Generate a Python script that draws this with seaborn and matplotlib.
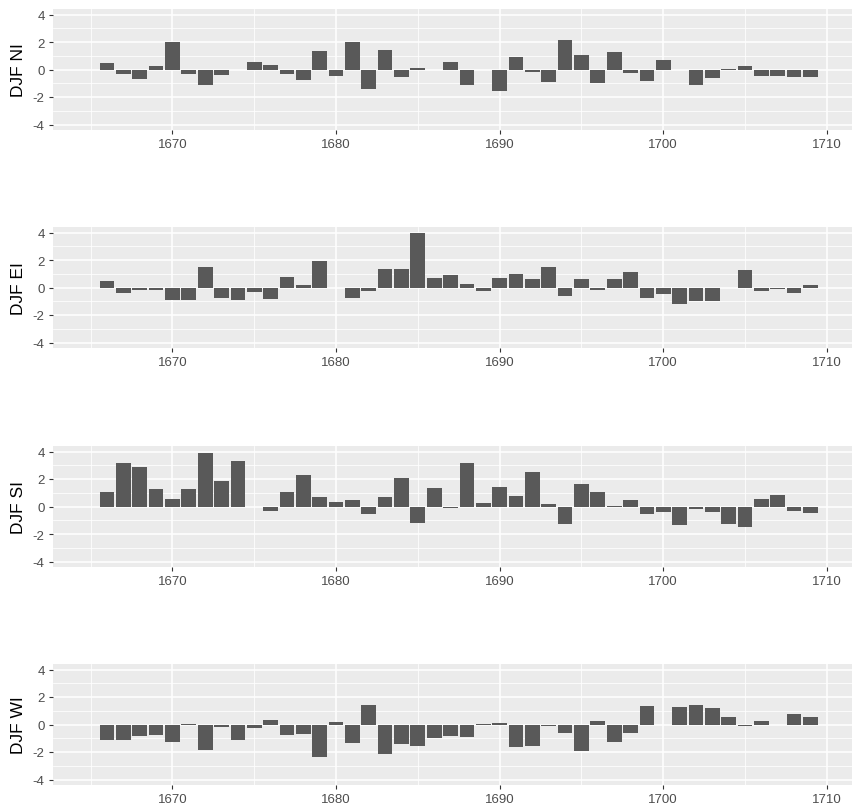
import numpy as np
import pandas as pd
import matplotlib
matplotlib.use("Agg")
import matplotlib.pyplot as plt
import seaborn as sns

years = list(range(1666, 1710))

# DJF indices (nan = no bar)
djf_ni = [0.45, -0.32, -0.7, 0.22, 2.0, -0.32, -1.12, -0.41, -0.07, 0.51,
          0.34, -0.32, -0.76, 1.32, -0.46, 1.98, -1.41, 1.44, -0.51, 0.1,
          np.nan, 0.52, -1.16, np.nan, -1.59, 0.93, -0.15, -0.9, 2.15, 1.02,
          -0.98, 1.27, -0.29, -0.85, 0.66, np.nan, -1.15, -0.61, 0.07, 0.24,
          -0.49, -0.44, -0.54, -0.54]
djf_ei = [0.49, -0.41, -0.17, -0.17, -0.9, -0.9, 1.48, -0.78, -0.9, -0.32,
          -0.85, 0.8, 0.17, 1.94, -0.07, -0.78, -0.24, 1.33, 1.33, 4.0,
          0.66, 0.9, 0.29, -0.29, 0.66, 0.95, 0.61, 1.48, -0.61, 0.61,
          -0.17, 0.61, 1.14, -0.73, -0.46, -1.21, -0.97, -0.97, np.nan, 1.26,
          -0.29, -0.1, -0.41, 0.17]
djf_si = [1.04, 3.2, 2.84, 1.26, 0.53, 1.26, 3.86, 1.82, 3.28, -0.07,
          -0.32, 1.09, 2.28, 0.68, 0.36, 0.49, -0.53, 0.68, 2.06, -1.21,
          1.33, -0.12, 3.2, 0.24, 1.41, 0.8, 2.48, 0.17, -1.26, 1.63,
          1.02, 0.07, 0.46, -0.53, -0.41, -1.33, -0.17, -0.41, -1.26, -1.46,
          0.53, 0.85, -0.34, -0.44]
djf_wi = [-1.16, -1.16, -0.85, -0.75, -1.28, 0.07, -1.89, -0.19, -1.11, -0.24,
          0.34, -0.75, -0.68, -2.37, 0.17, -1.36, 1.45, -2.13, -1.4, -1.57,
          -0.99, -0.8, -0.92, 0.07, 0.12, -1.6, -1.53, -0.12, -0.6, -1.94,
          0.29, -1.28, -0.6, 1.31, np.nan, 1.24, 1.43, 1.19, 0.58, -0.12,
          0.22, -0.07, 0.77, 0.58]

series = {"DJF NI": djf_ni, "DJF EI": djf_ei, "DJF SI": djf_si, "DJF WI": djf_wi}

df = pd.DataFrame({"year": years, **series})

plt.rcParams["font.family"] = ["Liberation Sans", "DejaVu Sans"]
plt.rcParams["axes.unicode_minus"] = False

fig = plt.figure(figsize=(8.53, 8.12), dpi=100)
W, H = 853, 812
tops = [10, 228, 447, 665]
ph = 121

for top, name in zip(tops, series):
    ax = fig.add_axes([53 / W, 1 - (top + ph) / H, (W - 53) / W, ph / H])
    sub = df[["year", name]].dropna()
    sns.barplot(data=sub, x="year", y=name, native_scale=True, width=0.9,
                color="#595959", saturation=1, errorbar=None, linewidth=0, ax=ax)
    ax.set_facecolor("#EBEBEB")
    for s in ax.spines.values():
        s.set_visible(False)
    ax.set_xlim(1662.7, 1711.6)
    ax.set_ylim(-4.4, 4.4)
    ax.set_xticks([1670, 1680, 1690, 1700, 1710])
    ax.set_xticks([1665, 1675, 1685, 1695, 1705], minor=True)
    ax.set_yticks([-4, -2, 0, 2, 4])
    ax.set_yticks([-3, -1, 1, 3], minor=True)
    ax.grid(which="major", color="white", lw=1.1)
    ax.grid(which="minor", color="white", lw=0.55)
    ax.set_axisbelow(True)
    ax.tick_params(which="major", length=3, width=0.8, color="#333333",
                   labelcolor="#4D4D4D", labelsize=9.5, pad=3)
    ax.tick_params(which="minor", length=0)
    ax.set_xlabel("")
    ax.set_ylabel(name, fontsize=12.5, color="black")
    ax.yaxis.set_label_coords(-27 / 800, 0.5)

fig.savefig("out.png", dpi=100)
